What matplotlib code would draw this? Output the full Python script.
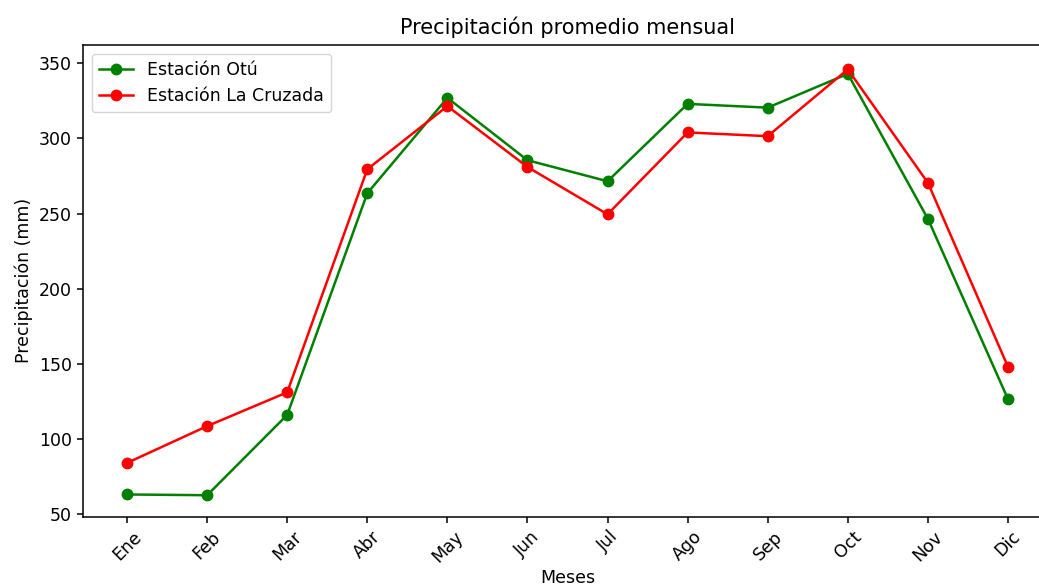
import numpy as np
import matplotlib.pyplot as plt

meses = ["Ene", "Feb", "Mar", "Abr", "May", "Jun", "Jul", "Ago", "Sep", "Oct", "Nov", "Dic"]
otu = [63, 62.5, 116, 263.5, 327, 285.5, 271.5, 323, 320.5, 343, 246.5, 126.5]
la_cruzada = [84, 108.5, 131, 279.5, 321.5, 281, 249.5, 304, 301.5, 346, 270.5, 148]


def main():
    fig = plt.figure(figsize=(10.39, 5.88), dpi=100)
    # the right edge of the axes falls outside the saved picture, as in the original
    ax = fig.add_axes([83 / 1039, 1 - 516.7 / 588, 969 / 1039, 471.7 / 588])

    x = np.arange(len(meses))
    ax.plot(x, otu, color='green', marker='o', markersize=7.5, linewidth=1.8, label='Estación Otú')
    ax.plot(x, la_cruzada, color='red', marker='o', markersize=7.5, linewidth=1.8, label='Estación La Cruzada')

    ax.set_xticks(x)
    ax.set_xticklabels(meses, rotation=45, fontsize=12.5)
    ax.tick_params(axis='y', labelsize=12.5)
    ax.tick_params(length=4.5, width=1.1)
    for s in ax.spines.values():
        s.set_linewidth(1.1)
    ax.set_yticks([50, 100, 150, 200, 250, 300, 350])
    ax.set_ylim(48.2, 362.2)
    ax.set_xlim(-0.55, 11.55)

    ax.set_title('Precipitación promedio mensual', fontsize=15, pad=8)
    ax.set_xlabel('Meses', fontsize=12.5, labelpad=2)
    ax.set_ylabel('Precipitación (mm)', fontsize=12.5)
    ax.legend(loc='upper left', fontsize=12.5)

    fig.savefig('out.png', dpi=100)


if __name__ == "__main__":
    main()
